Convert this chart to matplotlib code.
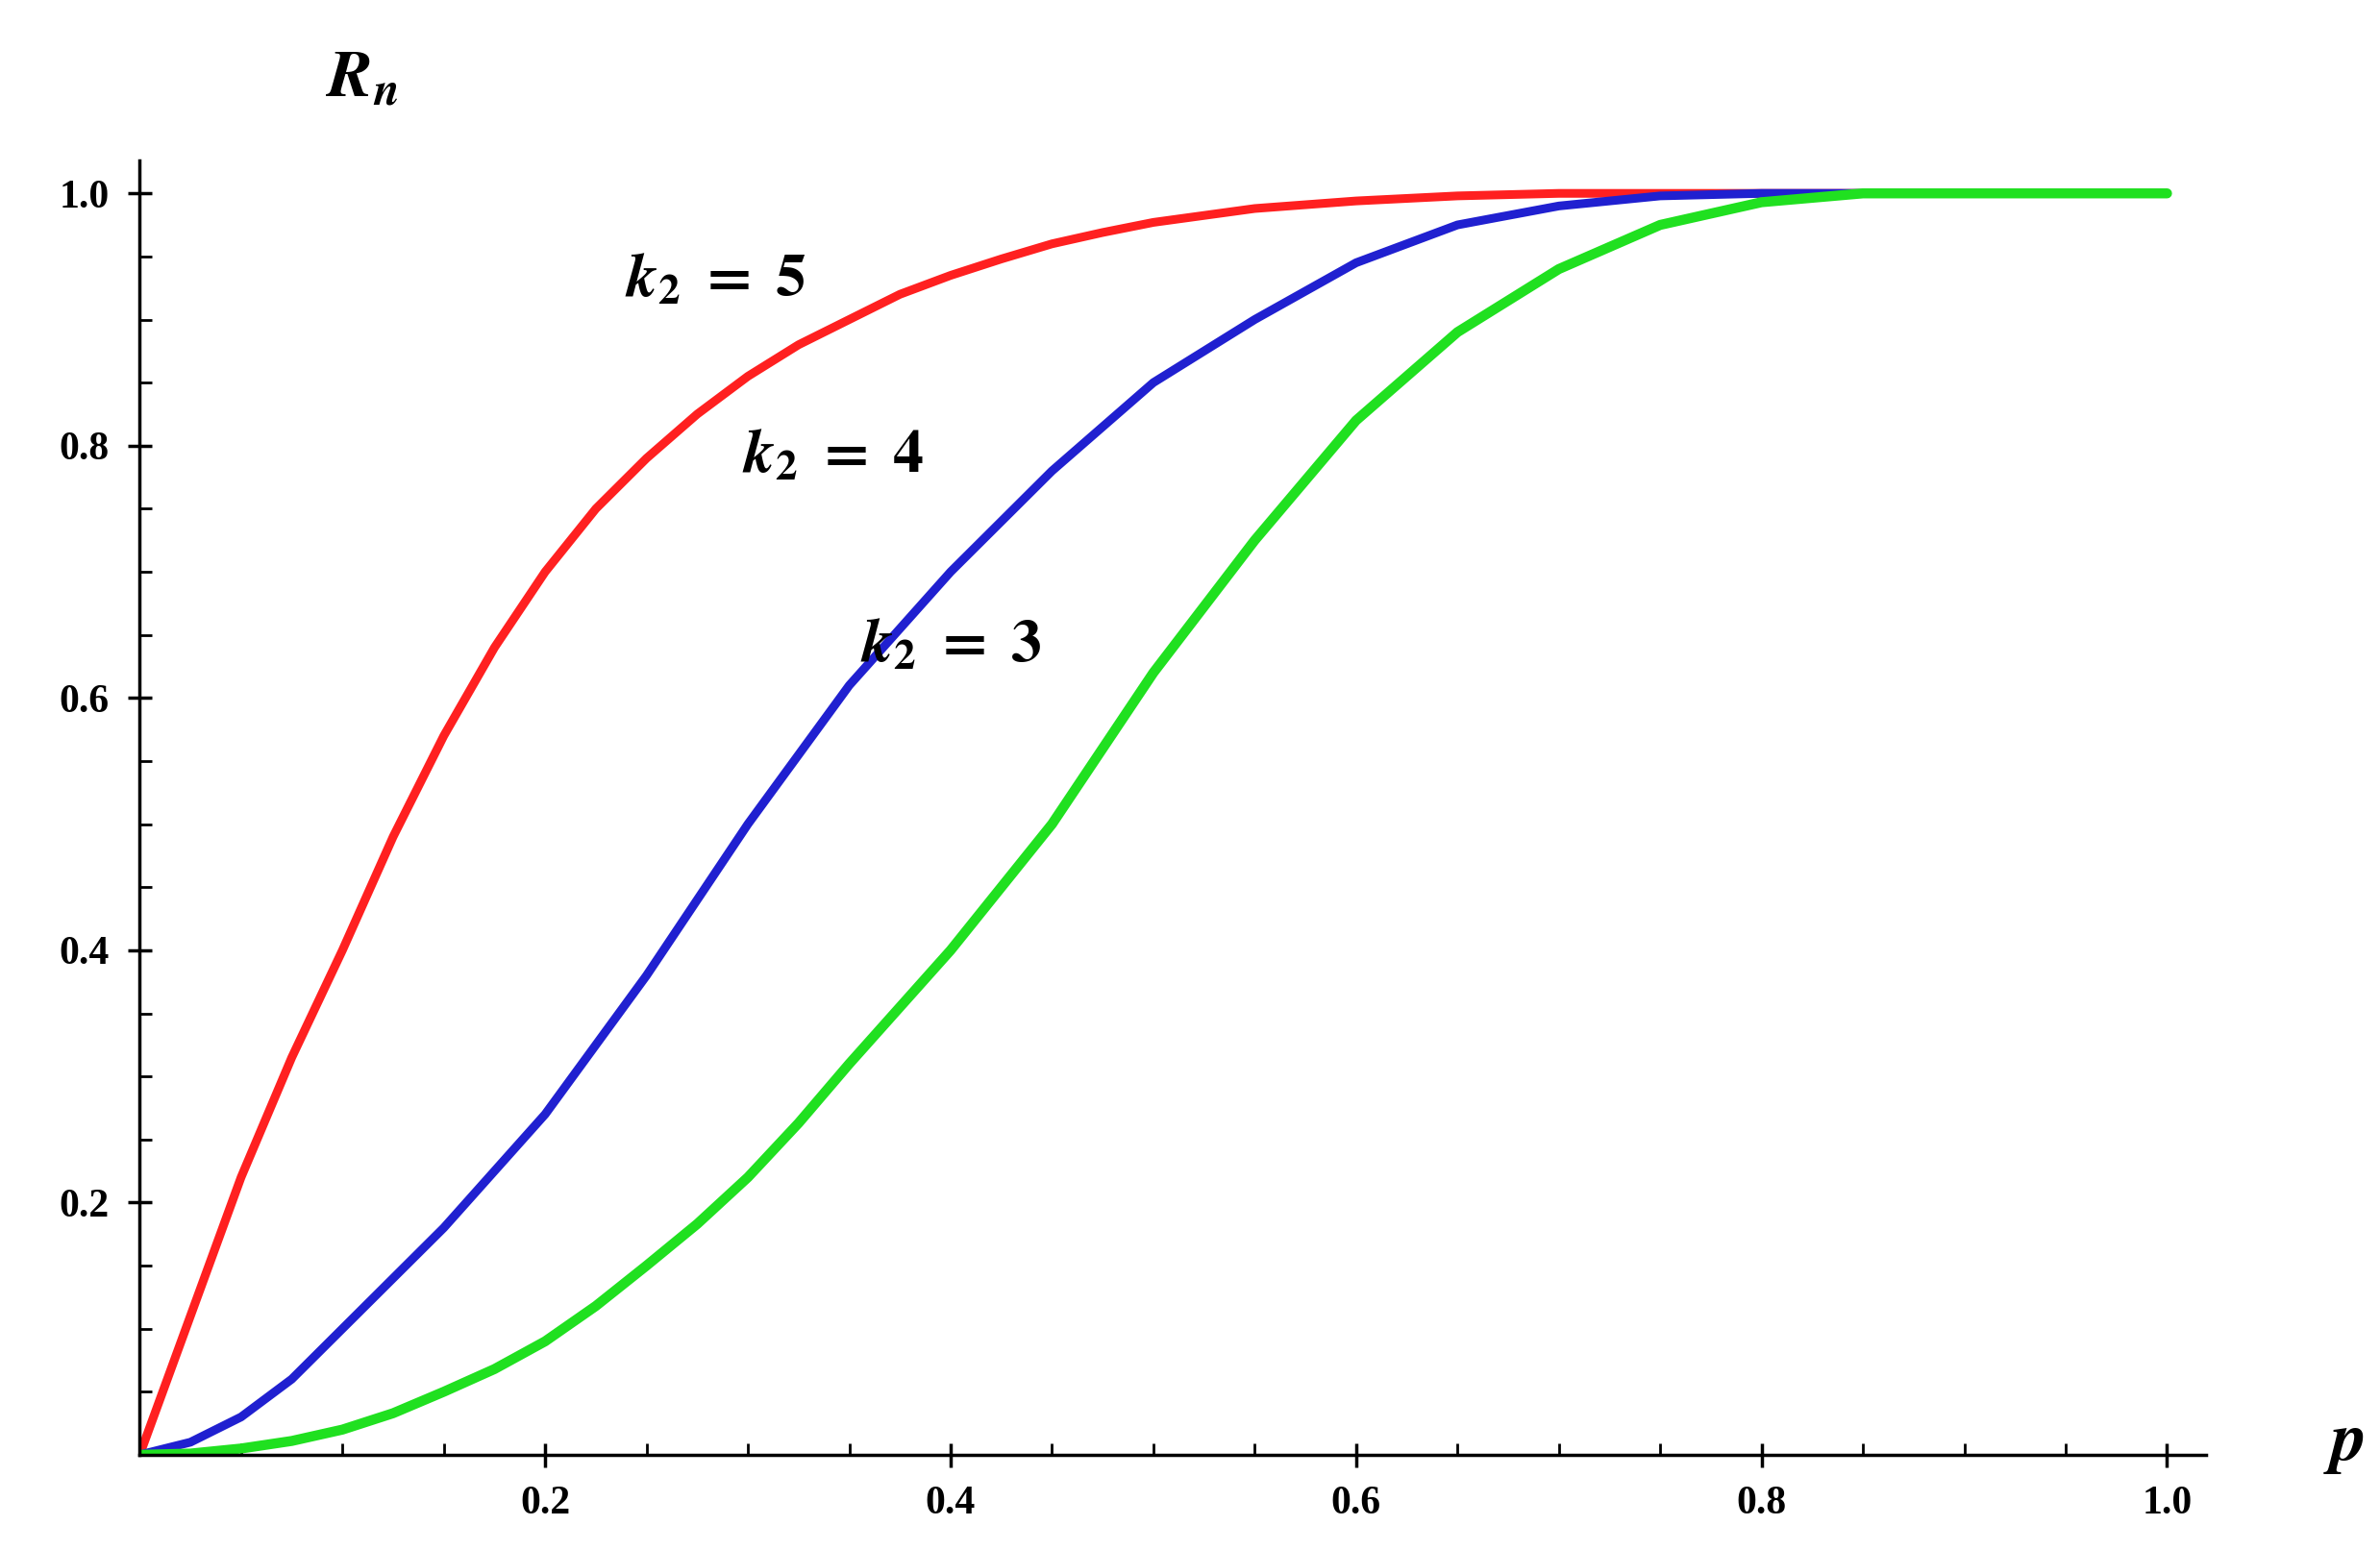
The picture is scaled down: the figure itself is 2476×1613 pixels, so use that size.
import numpy as np
import matplotlib
matplotlib.use("Agg")
from matplotlib import pyplot as plt
from matplotlib.ticker import MultipleLocator

plt.rcParams['font.family'] = 'Liberation Serif'
plt.rcParams['mathtext.fontset'] = 'stix'

p = [0.0, 0.025, 0.05, 0.075, 0.1, 0.125, 0.15, 0.175, 0.2, 0.225, 0.25,
     0.275, 0.3, 0.325, 0.35, 0.375, 0.4, 0.425, 0.45, 0.475, 0.5,
     0.55, 0.6, 0.65, 0.7, 0.75, 0.8, 0.85, 0.9, 0.95, 1.0]
r_k5 = [0.0, 0.11, 0.22, 0.315, 0.40, 0.49, 0.57, 0.64, 0.70, 0.75, 0.79,
        0.825, 0.855, 0.88, 0.90, 0.92, 0.935, 0.948, 0.96, 0.969, 0.977,
        0.988, 0.994, 0.998, 1.0, 1.0, 1.0, 1.0, 1.0, 1.0, 1.0]
r_k4 = [0.0, 0.01, 0.03, 0.06, 0.10, 0.14, 0.18, 0.225, 0.27, 0.325, 0.38,
        0.44, 0.50, 0.555, 0.61, 0.655, 0.70, 0.74, 0.78, 0.815, 0.85,
        0.90, 0.945, 0.975, 0.99, 0.998, 1.0, 1.0, 1.0, 1.0, 1.0]
r_k3 = [0.0, 0.001, 0.005, 0.011, 0.02, 0.033, 0.05, 0.068, 0.09, 0.118, 0.15,
        0.183, 0.22, 0.263, 0.31, 0.355, 0.40, 0.45, 0.50, 0.56, 0.62,
        0.725, 0.82, 0.89, 0.94, 0.975, 0.993, 1.0, 1.0, 1.0, 1.0]

fig = plt.figure(figsize=(24.76, 16.13), dpi=100)
ax = fig.add_axes([0.0587, 0.0614, 0.868, 0.835])

ax.plot(p, r_k5, color='#ff2020', lw=6.5, solid_capstyle='round')
ax.plot(p, r_k4, color='#2020d0', lw=6.5, solid_capstyle='round')
ax.plot(p, r_k3, color='#20e020', lw=7.5, solid_capstyle='round')

ax.set_xlim(0, 1.019)
ax.set_ylim(0, 1.026)
for s in ['top', 'right']:
    ax.spines[s].set_visible(False)
for s in ['left', 'bottom']:
    ax.spines[s].set_linewidth(2.5)

ax.xaxis.set_minor_locator(MultipleLocator(0.05))
ax.yaxis.set_minor_locator(MultipleLocator(0.05))
ax.set_xticks([0.2, 0.4, 0.6, 0.8, 1.0])
ax.set_xticklabels(['0.2', '0.4', '0.6', '0.8', '1.0'])
ax.set_yticks([0.2, 0.4, 0.6, 0.8, 1.0])
ax.set_yticklabels(['0.2', '0.4', '0.6', '0.8', '1.0'])
ax.tick_params(which='major', direction='inout', length=18, width=2.5,
               labelsize=30, pad=14)
ax.tick_params(which='minor', direction='in', length=9, width=2)
for lab in ax.get_xticklabels() + ax.get_yticklabels():
    lab.set_fontweight('bold')

fs = 46
ax.text(0.284, 0.93, r"$\mathbfit{k}_\mathbf{2}\mathbf{\ =\ 5}$", fontsize=fs,
        ha='center', va='center')
ax.text(0.342, 0.79, r"$\mathbfit{k}_\mathbf{2}\mathbf{\ =\ 4}$", fontsize=fs,
        ha='center', va='center')
ax.text(0.40, 0.64, r"$\mathbfit{k}_\mathbf{2}\mathbf{\ =\ 3}$", fontsize=fs,
        ha='center', va='center')

fig.text(0.152, 0.948, r"$\mathbfit{R}_\mathbfit{n}$", fontsize=50,
         ha='center', va='center')
fig.text(0.985, 0.068, r"$\mathbfit{p}$", fontsize=52,
         ha='center', va='center')

fig.savefig("out.png", dpi=100)
